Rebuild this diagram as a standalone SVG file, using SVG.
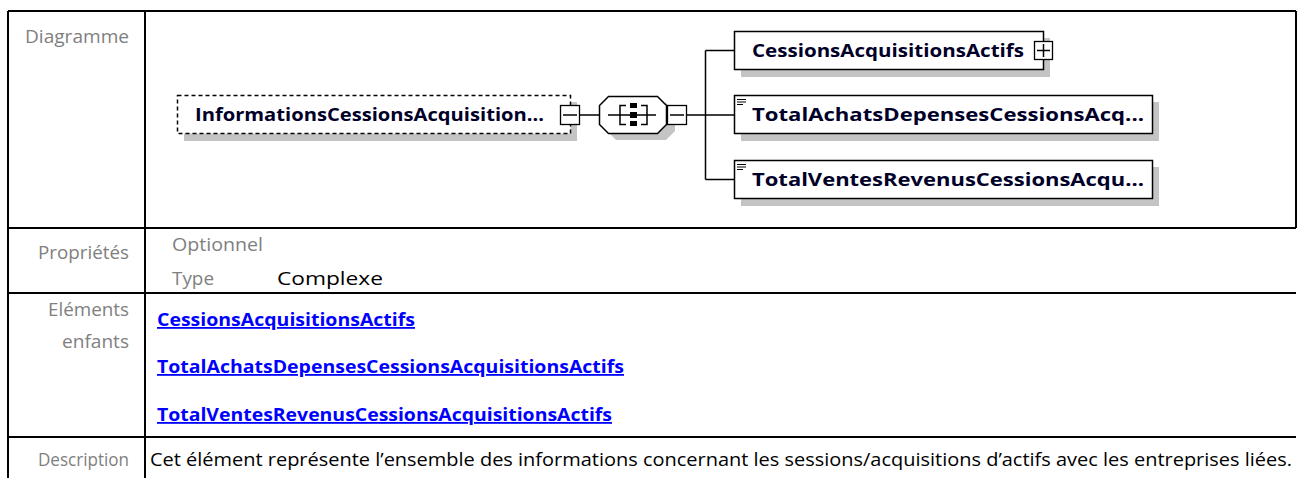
<svg xmlns="http://www.w3.org/2000/svg" width="1302" height="478" viewBox="0 0 1302 478">
<style>
.lbl{font-family:"Open Sans","Noto Sans",sans-serif;font-size:18px;fill:#7f7f7f}
.txt{font-family:"Open Sans","Noto Sans",sans-serif;font-size:18px;fill:#000}
.lnk{font-family:"Open Sans","Noto Sans",sans-serif;font-size:18px;font-weight:bold;fill:#0000ff;text-decoration:underline}
.node{font-family:"Open Sans","Noto Sans",sans-serif;font-size:18px;font-weight:bold;fill:#000028}
.grid{stroke:#000;stroke-width:2;fill:none}
.box{fill:#fff;stroke:#000;stroke-width:1.5}
.shadow{fill:#c4c4c4}
.conn{stroke:#000;stroke-width:1.5;fill:none}
.btn{fill:#fff;stroke:#000;stroke-width:1.3}
</style>
<rect width="1302" height="478" fill="#fff"/>
<g id="table">
<path class="grid" d="M8,11 H1296 M8,11 V478 M145,11 V478 M1296,11 V228 M8,228 H1296 M8,293 H1296 M8,437 H1296"/>
<text class="lbl" x="129" y="43" text-anchor="end" textLength="104" lengthAdjust="spacingAndGlyphs">Diagramme</text>
<text class="lbl" x="129" y="259" text-anchor="end" textLength="91" lengthAdjust="spacingAndGlyphs">Propriétés</text>
<text class="lbl" x="172" y="251" textLength="91" lengthAdjust="spacingAndGlyphs">Optionnel</text>
<text class="lbl" x="172" y="285" textLength="42" lengthAdjust="spacingAndGlyphs">Type</text>
<text class="txt" x="277" y="285" textLength="106" lengthAdjust="spacingAndGlyphs">Complexe</text>
<text class="lbl" x="129" y="316" text-anchor="end" textLength="81" lengthAdjust="spacingAndGlyphs">Eléments</text>
<text class="lbl" x="129" y="348" text-anchor="end" textLength="67" lengthAdjust="spacingAndGlyphs">enfants</text>
<text class="lnk" x="157" y="326" textLength="258" lengthAdjust="spacingAndGlyphs">CessionsAcquisitionsActifs</text>
<text class="lnk" x="157" y="373" textLength="467" lengthAdjust="spacingAndGlyphs">TotalAchatsDepensesCessionsAcquisitionsActifs</text>
<text class="lnk" x="157" y="421" textLength="455" lengthAdjust="spacingAndGlyphs">TotalVentesRevenusCessionsAcquisitionsActifs</text>
<text class="lbl" x="129" y="466" text-anchor="end" textLength="91" lengthAdjust="spacingAndGlyphs">Description</text>
<text class="txt" x="150" y="466" textLength="1142" lengthAdjust="spacingAndGlyphs">Cet élément représente l’ensemble des informations concernant les sessions/acquisitions d’actifs avec les entreprises liées.</text>
</g>
<g id="connectors">
<path class="conn" d="M580,115 H599 M687,115 H705.5 M705.5,50.5 V179.5 M705.5,50.5 H734 M705.5,115 H734 M705.5,179.5 H734"/>
</g>
<g id="node-informations">
<rect class="shadow" x="184" y="102" width="393" height="39"/>
<rect x="177.5" y="95.5" width="393" height="38" fill="#fff" stroke="#000" stroke-width="1.5" stroke-dasharray="4,3"/>
<text class="node" x="195" y="121" textLength="349" lengthAdjust="spacingAndGlyphs">InformationsCessionsAcquisition...</text>
<rect class="btn" x="560.5" y="105.5" width="19" height="19"/>
<path class="conn" d="M563,115 H577"/>
</g>
<g id="node-sequence">
<path class="shadow" d="M616,103 H666 L675,112 V131 L666,140 H616 L607,131 V112 Z"/>
<path class="box" d="M608.5,96.5 H657.5 L666.5,105.5 V124.5 L657.5,133.5 H608.5 L599.5,124.5 V105.5 Z"/>
<path class="conn" d="M608,115 H656 M626,105.5 H620 V124.5 H626 M641,105.5 H647 V124.5 H641"/>
<rect x="630" y="103" width="7" height="5" fill="#000"/>
<rect x="630" y="112" width="7" height="6" fill="#000"/>
<rect x="630" y="121" width="7" height="5" fill="#000"/>
<rect class="btn" x="667.5" y="105.5" width="19" height="19"/>
<path class="conn" d="M670,115 H684"/>
</g>
<g id="node-cessions">
<rect class="shadow" x="741" y="38" width="309" height="39"/>
<rect class="box" x="734.5" y="31.5" width="309" height="38"/>
<text class="node" x="752" y="57" textLength="272" lengthAdjust="spacingAndGlyphs">CessionsAcquisitionsActifs</text>
<rect class="btn" x="1034.5" y="41.5" width="18" height="18"/>
<path class="conn" d="M1037,50.5 H1050 M1043.5,44 V57"/>
</g>
<g id="node-totalachats">
<rect class="shadow" x="741" y="102" width="418" height="39"/>
<rect class="box" x="734.5" y="95.5" width="418" height="38"/>
<path stroke="#000" stroke-width="1" d="M737,99.5 H746 M737,102 H746 M737,104.5 H743"/>
<text class="node" x="752" y="121" textLength="392" lengthAdjust="spacingAndGlyphs">TotalAchatsDepensesCessionsAcq...</text>
</g>
<g id="node-totalventes">
<rect class="shadow" x="741" y="167" width="418" height="39"/>
<rect class="box" x="734.5" y="160.5" width="418" height="38"/>
<path stroke="#000" stroke-width="1" d="M737,164.5 H746 M737,167 H746 M737,169.5 H743"/>
<text class="node" x="752" y="186" textLength="392" lengthAdjust="spacingAndGlyphs">TotalVentesRevenusCessionsAcqu...</text>
</g>
</svg>
